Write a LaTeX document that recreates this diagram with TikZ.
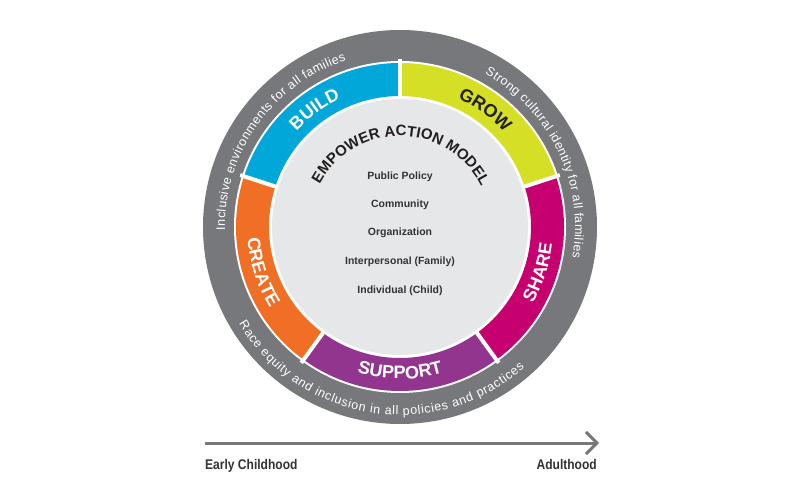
\documentclass[tikz,border=0pt]{standalone}
\usepackage{fontspec}
\setmainfont{Liberation Sans}
\newfontfamily\condfont[FakeStretch=0.86]{Liberation Sans}
\usetikzlibrary{decorations.text,arrows.meta}
\definecolor{ringgray}{RGB}{119,120,123}
\definecolor{innergray}{RGB}{230,231,232}
\definecolor{cbuild}{RGB}{0,167,216}
\definecolor{cgrow}{RGB}{213,223,37}
\definecolor{cshare}{RGB}{198,0,111}
\definecolor{csupport}{RGB}{145,53,142}
\definecolor{ccreate}{RGB}{240,111,36}
\definecolor{darktext}{RGB}{35,31,32}
\definecolor{listcol}{RGB}{51,51,51}
\tikzset{
  listtext/.style={font=\bfseries\fontsize{10.5}{12}\selectfont, text=listcol, inner sep=0pt},
  timelbl/.style={font=\condfont\bfseries\fontsize{14}{16}\selectfont, text=listcol, inner sep=0pt},
  outertxt/.style={decorate, decoration={text along path, text color=white, text align={fit to path}, text={|\fontsize{12.5}{13}\selectfont|#1}}},
  segtxt/.style 2 args={decorate, decoration={text along path, text color=#2, text align=center, text={|\bfseries\fontsize{18}{18}\selectfont|#1}}}
}
\begin{document}
\begin{tikzpicture}[x=1pt,y=1pt]
\useasboundingbox (-400,-273) rectangle (400,227);
\fill[white] (-400,-273) rectangle (400,227);
% rings
\fill[ringgray] (0,0) circle[radius=197];
\fill[white] (0,0) circle[radius=166];
\foreach \a/\c [evaluate=\a as \b using \a+72] in {90/cbuild,162/ccreate,234/csupport,306/cshare,18/cgrow}{
  \fill[\c] (\a:131) arc[start angle=\a, end angle=\b, radius=131] -- (\b:164) arc[start angle=\b, end angle=\a, radius=164] -- cycle;
}
\foreach \a in {18,90,162,234,306}{
  \draw[white, line width=4pt] (\a:120) -- (\a:168);
}
\fill[innergray] (0,0) circle[radius=128];
% outer ring texts
\path[outertxt={Inclusive environments for all families}] (181:175) arc[start angle=181, end angle=108, radius=175];
\path[outertxt={Strong cultural identity for all families}] (61:175) arc[start angle=61, end angle=-10, radius=175];
\path[outertxt={Race equity and inclusion in all policies and practices}] (211:188) arc[start angle=211, end angle=311.5, radius=188];
% segment labels
\path[segtxt={BUILD}{white}] (166:141) arc[start angle=166, end angle=86, radius=141];
\path[segtxt={GROW}{darktext}] (94:141) arc[start angle=94, end angle=14, radius=141];
\path[segtxt={SHARE}{white}] (-58:153) arc[start angle=-58, end angle=22, radius=153];
\path[segtxt={SUPPORT}{white}] (230:152) arc[start angle=230, end angle=310, radius=152];
\path[segtxt={CREATE}{white}] (158:153) arc[start angle=158, end angle=238, radius=153];
% title arc
\path[decorate, decoration={text along path, text color=darktext, text align={fit to path}, text={|\bfseries\fontsize{15}{15}\selectfont|EMPOWER ACTION MODEL}}] (152:91) arc[start angle=152, end angle=28, radius=91];
% list
\node[listtext] (pp) at (0,50) {Public Policy};
\node[listtext] (cm) at (0,22) {Community};
\node[listtext] (og) at (0,-6) {Organization};
\node[listtext] (ip) at (0,-35) {Interpersonal (Family)};
\node[listtext] (ic) at (0,-64) {Individual (Child)};
% timeline
\coordinate (tl0) at (-195,-216);
\coordinate (tl1) at (199,-216);
\draw[ringgray, line width=3pt, -{Straight Barb[length=11pt,width=22pt]}] (tl0) -- (tl1);
\node[timelbl, anchor=base west] (ec) at (-195,-242) {Early Childhood};
\node[timelbl, anchor=base east] (ad) at (197,-242) {Adulthood};
\end{tikzpicture}
\end{document}
